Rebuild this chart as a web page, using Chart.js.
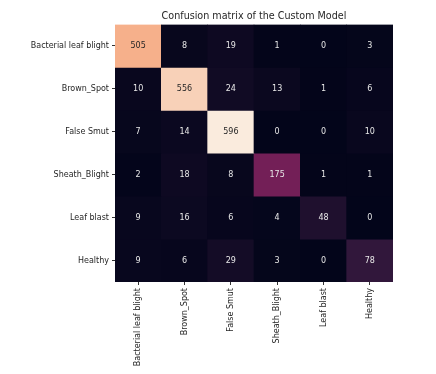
<!DOCTYPE html>
<html>
<head>
<meta charset="utf-8">
<script src="https://cdn.jsdelivr.net/npm/chart.js@4/dist/chart.umd.min.js"></script>
<style>
    html, body { margin: 0; padding: 0; background: #fff; }
    #wrap { width: 436px; height: 374px; }
</style>
</head>
<body>
<div id="wrap"><canvas id="cm" width="436" height="374"></canvas></div>
<script>
// class names, used for both rows (true) and columns (predicted)
const classLabels = ['Bacterial leaf blight', 'Brown_Spot', 'False Smut', 'Sheath_Blight', 'Leaf blast', 'Healthy'];

// one array per true class row
const rowBacterial = [505, 8, 19, 1, 0, 3];
const rowBrownSpot = [10, 556, 24, 13, 1, 6];
const rowFalseSmut = [7, 14, 596, 0, 0, 10];
const rowSheath = [2, 18, 8, 175, 1, 1];
const rowLeafBlast = [9, 16, 6, 4, 48, 0];
const rowHealthy = [9, 6, 29, 3, 0, 78];
const matrixRows = [rowBacterial, rowBrownSpot, rowFalseSmut, rowSheath, rowLeafBlast, rowHealthy];

// approximate seaborn "rocket" colormap stops
const ROCKET = [
    [0.0, '#03051a'], [1 / 7, '#35193e'], [2 / 7, '#701f57'], [3 / 7, '#ad1759'],
    [4 / 7, '#e13342'], [5 / 7, '#f37651'], [6 / 7, '#f6b48f'], [1.0, '#faebdd']
];

const hexToRgb = h => [1, 3, 5].map(i => parseInt(h.slice(i, i + 2), 16));

function rocket(t) {
    t = Math.max(0, Math.min(1, t));
    for (let i = 1; i < ROCKET.length; i++) {
        if (t <= ROCKET[i][0]) {
            const [t0, c0] = ROCKET[i - 1];
            const [t1, c1] = ROCKET[i];
            const f = (t - t0) / (t1 - t0);
            const a = hexToRgb(c0), b = hexToRgb(c1);
            const rgb = a.map((v, k) => Math.round(v + (b[k] - v) * f));
            return { css: `rgb(${rgb.join(',')})`, lum: (0.299 * rgb[0] + 0.587 * rgb[1] + 0.114 * rgb[2]) / 255 };
        }
    }
    return { css: ROCKET[ROCKET.length - 1][1], lum: 1 };
}

const vmax = Math.max(...matrixRows.flat());
const vmin = Math.min(...matrixRows.flat());

// each true-class row is one stacked dataset, every cell one unit tall
const datasets = matrixRows.map((row, r) => ({
    label: classLabels[r],
    data: row.map(() => 1),
    counts: row,
    backgroundColor: row.map(v => rocket((v - vmin) / (vmax - vmin)).css),
    borderWidth: 0,
    barPercentage: 1,
    categoryPercentage: 1
}));

const cellText = {
    id: 'cellText',
    afterDatasetsDraw(chart) {
        const ctx = chart.ctx;
        ctx.save();
        ctx.font = '8px "DejaVu Sans"';
        ctx.textAlign = 'center';
        ctx.textBaseline = 'middle';
        chart.data.datasets.forEach((ds, di) => {
            chart.getDatasetMeta(di).data.forEach((bar, i) => {
                const { x, y, base } = bar.getProps(['x', 'y', 'base'], true);
                const v = ds.counts[i];
                const lum = rocket((v - vmin) / (vmax - vmin)).lum;
                ctx.fillStyle = lum > 0.4 ? '#262626' : '#e8e8e8';
                ctx.fillText(String(v), x, (y + base) / 2);
            });
        });
        ctx.restore();
    }
};

const tickFont = { family: 'DejaVu Sans', size: 8 };

new Chart(document.getElementById('cm'), {
    type: 'bar',
    data: { labels: classLabels, datasets },
    options: {
        responsive: false,
        animation: false,
        devicePixelRatio: 1,
        layout: { padding: { left: 0, right: 43, top: 0, bottom: 0 } },
        plugins: {
            legend: { display: false },
            tooltip: { enabled: false },
            title: {
                display: true,
                fullSize: false,
                text: 'Confusion matrix of the Custom Model',
                color: '#262626',
                font: { family: 'DejaVu Sans', size: 9.6, weight: 'normal' },
                padding: { top: 11, bottom: 2 }
            }
        },
        scales: {
            x: {
                type: 'category',
                stacked: true,
                offset: true,
                border: { display: false },
                grid: { display: true, offset: false, drawOnChartArea: false, drawTicks: true, tickLength: 3, tickColor: '#333' },
                ticks: { font: tickFont, color: '#262626', autoSkip: false, maxRotation: 90, minRotation: 90, padding: 3 },
                afterFit: scale => { scale.height = 92; }
            },
            y: {
                type: 'linear',
                stacked: true,
                reverse: true,
                min: 0,
                max: 6,
                border: { display: false },
                grid: { display: true, drawOnChartArea: false, drawTicks: true, tickLength: 3, tickColor: '#333' },
                ticks: {
                    font: tickFont,
                    color: '#262626',
                    autoSkip: false,
                    padding: 3,
                    callback: (v, i) => classLabels[i]
                },
                afterBuildTicks: scale => {
                    scale.ticks = classLabels.map((_, i) => ({ value: i + 0.5 }));
                },
                afterFit: scale => { scale.width = 115; }
            }
        }
    },
    plugins: [cellText]
});
</script>
</body>
</html>
